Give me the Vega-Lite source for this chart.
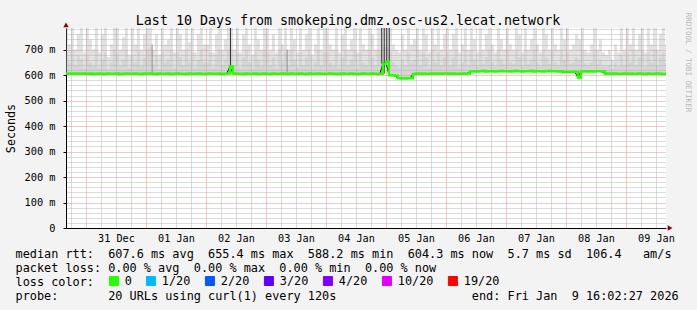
{
  "$schema": "https://vega.github.io/schema/vega-lite/v6.json",
  "width": 600,
  "height": 200,
  "autosize": "none",
  "padding": {"left": 66, "top": 28, "right": 31, "bottom": 82},
  "background": "#f3f3f3",
  "config": {
    "view": {"fill": "white", "stroke": null},
    "font": "DejaVu Sans Mono",
    "axis": {"labelFont": "DejaVu Sans Mono", "titleFont": "DejaVu Sans Mono", "labelColor": "black", "titleColor": "black", "titleFontWeight": "normal"}
  },
  "datasets": {
    "s": [
      {"t":"2025-12-30T16:03Z","m":606,"h":785,"d":690},
      {"t":"2025-12-30T16:48Z","m":605,"h":720,"d":650},
      {"t":"2025-12-30T18:00Z","m":606,"h":785,"d":700},
      {"t":"2025-12-30T19:12Z","m":605,"h":700,"d":640},
      {"t":"2025-12-30T20:24Z","m":606,"h":760,"d":680},
      {"t":"2025-12-30T21:36Z","m":605,"h":785,"d":660},
      {"t":"2025-12-30T22:48Z","m":606,"h":690,"d":630},
      {"t":"2025-12-31T00:00Z","m":605,"h":785,"d":680},
      {"t":"2025-12-31T01:12Z","m":606,"h":740,"d":650},
      {"t":"2025-12-31T02:24Z","m":604,"h":700,"d":640},
      {"t":"2025-12-31T03:36Z","m":605,"h":785,"d":700},
      {"t":"2025-12-31T04:48Z","m":606,"h":690,"d":630},
      {"t":"2025-12-31T06:00Z","m":605,"h":760,"d":660},
      {"t":"2025-12-31T07:12Z","m":604,"h":785,"d":690},
      {"t":"2025-12-31T08:24Z","m":606,"h":670,"d":625},
      {"t":"2025-12-31T09:36Z","m":605,"h":720,"d":650},
      {"t":"2025-12-31T10:48Z","m":605,"h":785,"d":700},
      {"t":"2025-12-31T12:00Z","m":606,"h":785,"d":690},
      {"t":"2025-12-31T13:12Z","m":604,"h":700,"d":640},
      {"t":"2025-12-31T14:24Z","m":605,"h":750,"d":660},
      {"t":"2025-12-31T15:36Z","m":606,"h":785,"d":700},
      {"t":"2025-12-31T16:48Z","m":605,"h":680,"d":630},
      {"t":"2025-12-31T18:00Z","m":605,"h":785,"d":680},
      {"t":"2025-12-31T19:12Z","m":606,"h":720,"d":650},
      {"t":"2025-12-31T20:24Z","m":605,"h":785,"d":700},
      {"t":"2025-12-31T21:36Z","m":604,"h":700,"d":640},
      {"t":"2025-12-31T22:48Z","m":606,"h":760,"d":670},
      {"t":"2026-01-01T00:00Z","m":605,"h":785,"d":700},
      {"t":"2026-01-01T01:12Z","m":606,"h":785,"d":710},
      {"t":"2026-01-01T02:24Z","m":605,"h":700,"d":640},
      {"t":"2026-01-01T03:36Z","m":604,"h":760,"d":680},
      {"t":"2026-01-01T04:48Z","m":606,"h":680,"d":625},
      {"t":"2026-01-01T06:00Z","m":605,"h":785,"d":690},
      {"t":"2026-01-01T07:12Z","m":605,"h":720,"d":650},
      {"t":"2026-01-01T08:24Z","m":606,"h":740,"d":660},
      {"t":"2026-01-01T09:36Z","m":604,"h":785,"d":700},
      {"t":"2026-01-01T10:48Z","m":605,"h":690,"d":630},
      {"t":"2026-01-01T12:00Z","m":606,"h":785,"d":690},
      {"t":"2026-01-01T13:12Z","m":605,"h":760,"d":670},
      {"t":"2026-01-01T14:24Z","m":605,"h":700,"d":640},
      {"t":"2026-01-01T15:36Z","m":604,"h":785,"d":700},
      {"t":"2026-01-01T16:48Z","m":606,"h":730,"d":650},
      {"t":"2026-01-01T18:00Z","m":605,"h":785,"d":690},
      {"t":"2026-01-01T19:12Z","m":605,"h":690,"d":630},
      {"t":"2026-01-01T20:24Z","m":606,"h":760,"d":660},
      {"t":"2026-01-01T21:36Z","m":605,"h":785,"d":700},
      {"t":"2026-01-01T22:48Z","m":604,"h":720,"d":650},
      {"t":"2026-01-02T00:00Z","m":605,"h":720,"d":650},
      {"t":"2026-01-02T01:12Z","m":606,"h":785,"d":690},
      {"t":"2026-01-02T02:24Z","m":605,"h":690,"d":630},
      {"t":"2026-01-02T03:36Z","m":605,"h":760,"d":680},
      {"t":"2026-01-02T04:48Z","m":606,"h":785,"d":700},
      {"t":"2026-01-02T06:00Z","m":604,"h":700,"d":640},
      {"t":"2026-01-02T07:12Z","m":605,"h":740,"d":660},
      {"t":"2026-01-02T08:24Z","m":606,"h":785,"d":700},
      {"t":"2026-01-02T09:36Z","m":634,"h":785,"d":700},
      {"t":"2026-01-02T10:48Z","m":606,"h":700,"d":640},
      {"t":"2026-01-02T12:00Z","m":605,"h":785,"d":690},
      {"t":"2026-01-02T13:12Z","m":605,"h":690,"d":630},
      {"t":"2026-01-02T14:24Z","m":604,"h":760,"d":670},
      {"t":"2026-01-02T15:36Z","m":606,"h":785,"d":700},
      {"t":"2026-01-02T16:48Z","m":605,"h":720,"d":650},
      {"t":"2026-01-02T18:00Z","m":605,"h":680,"d":625},
      {"t":"2026-01-02T19:12Z","m":606,"h":785,"d":690},
      {"t":"2026-01-02T20:24Z","m":604,"h":740,"d":660},
      {"t":"2026-01-02T21:36Z","m":605,"h":700,"d":640},
      {"t":"2026-01-02T22:48Z","m":606,"h":785,"d":700},
      {"t":"2026-01-03T00:00Z","m":605,"h":785,"d":690},
      {"t":"2026-01-03T01:12Z","m":604,"h":700,"d":640},
      {"t":"2026-01-03T02:24Z","m":606,"h":760,"d":670},
      {"t":"2026-01-03T03:36Z","m":605,"h":690,"d":630},
      {"t":"2026-01-03T04:48Z","m":605,"h":785,"d":700},
      {"t":"2026-01-03T06:00Z","m":606,"h":720,"d":650},
      {"t":"2026-01-03T07:12Z","m":605,"h":785,"d":690},
      {"t":"2026-01-03T08:24Z","m":604,"h":700,"d":640},
      {"t":"2026-01-03T09:36Z","m":606,"h":785,"d":700},
      {"t":"2026-01-03T10:48Z","m":605,"h":740,"d":660},
      {"t":"2026-01-03T12:00Z","m":605,"h":690,"d":630},
      {"t":"2026-01-03T13:12Z","m":606,"h":785,"d":690},
      {"t":"2026-01-03T14:24Z","m":605,"h":700,"d":640},
      {"t":"2026-01-03T15:36Z","m":604,"h":760,"d":670},
      {"t":"2026-01-03T16:48Z","m":606,"h":785,"d":700},
      {"t":"2026-01-03T18:00Z","m":605,"h":680,"d":630},
      {"t":"2026-01-03T19:12Z","m":605,"h":720,"d":650},
      {"t":"2026-01-03T20:24Z","m":606,"h":785,"d":700},
      {"t":"2026-01-03T21:36Z","m":605,"h":700,"d":640},
      {"t":"2026-01-03T22:48Z","m":605,"h":785,"d":690},
      {"t":"2026-01-04T00:00Z","m":605,"h":785,"d":690},
      {"t":"2026-01-04T01:12Z","m":606,"h":720,"d":650},
      {"t":"2026-01-04T02:24Z","m":605,"h":700,"d":640},
      {"t":"2026-01-04T03:36Z","m":605,"h":785,"d":700},
      {"t":"2026-01-04T04:48Z","m":604,"h":690,"d":630},
      {"t":"2026-01-04T06:00Z","m":606,"h":760,"d":670},
      {"t":"2026-01-04T07:12Z","m":605,"h":785,"d":700},
      {"t":"2026-01-04T08:24Z","m":605,"h":700,"d":640},
      {"t":"2026-01-04T09:36Z","m":606,"h":740,"d":660},
      {"t":"2026-01-04T10:48Z","m":605,"h":785,"d":700},
      {"t":"2026-01-04T12:00Z","m":604,"h":690,"d":630},
      {"t":"2026-01-04T13:12Z","m":605,"h":785,"d":690},
      {"t":"2026-01-04T14:24Z","m":606,"h":720,"d":650},
      {"t":"2026-01-04T15:36Z","m":605,"h":700,"d":640},
      {"t":"2026-01-04T16:48Z","m":605,"h":785,"d":700},
      {"t":"2026-01-04T18:00Z","m":606,"h":760,"d":670},
      {"t":"2026-01-04T19:12Z","m":605,"h":700,"d":640},
      {"t":"2026-01-04T20:24Z","m":604,"h":785,"d":700},
      {"t":"2026-01-04T21:36Z","m":605,"h":785,"d":700},
      {"t":"2026-01-04T22:48Z","m":645,"h":785,"d":710},
      {"t":"2026-01-05T00:00Z","m":653,"h":785,"d":710},
      {"t":"2026-01-05T01:12Z","m":600,"h":785,"d":690},
      {"t":"2026-01-05T02:24Z","m":600,"h":720,"d":650},
      {"t":"2026-01-05T03:36Z","m":598,"h":700,"d":640},
      {"t":"2026-01-05T04:48Z","m":588,"h":690,"d":630},
      {"t":"2026-01-05T06:00Z","m":587,"h":760,"d":660},
      {"t":"2026-01-05T07:12Z","m":587,"h":700,"d":640},
      {"t":"2026-01-05T08:24Z","m":588,"h":785,"d":690},
      {"t":"2026-01-05T09:36Z","m":588,"h":720,"d":650},
      {"t":"2026-01-05T10:48Z","m":604,"h":740,"d":660},
      {"t":"2026-01-05T12:00Z","m":606,"h":785,"d":700},
      {"t":"2026-01-05T13:12Z","m":605,"h":700,"d":640},
      {"t":"2026-01-05T14:24Z","m":606,"h":785,"d":690},
      {"t":"2026-01-05T15:36Z","m":605,"h":760,"d":670},
      {"t":"2026-01-05T16:48Z","m":605,"h":690,"d":630},
      {"t":"2026-01-05T18:00Z","m":606,"h":785,"d":700},
      {"t":"2026-01-05T19:12Z","m":605,"h":720,"d":650},
      {"t":"2026-01-05T20:24Z","m":606,"h":785,"d":690},
      {"t":"2026-01-05T21:36Z","m":605,"h":700,"d":640},
      {"t":"2026-01-05T22:48Z","m":606,"h":760,"d":670},
      {"t":"2026-01-06T00:00Z","m":606,"h":785,"d":690},
      {"t":"2026-01-06T01:12Z","m":605,"h":700,"d":640},
      {"t":"2026-01-06T02:24Z","m":606,"h":760,"d":670},
      {"t":"2026-01-06T03:36Z","m":605,"h":785,"d":700},
      {"t":"2026-01-06T04:48Z","m":605,"h":690,"d":630},
      {"t":"2026-01-06T06:00Z","m":606,"h":720,"d":650},
      {"t":"2026-01-06T07:12Z","m":605,"h":785,"d":700},
      {"t":"2026-01-06T08:24Z","m":606,"h":700,"d":640},
      {"t":"2026-01-06T09:36Z","m":614,"h":785,"d":700},
      {"t":"2026-01-06T10:48Z","m":615,"h":740,"d":660},
      {"t":"2026-01-06T12:00Z","m":614,"h":690,"d":635},
      {"t":"2026-01-06T13:12Z","m":615,"h":785,"d":695},
      {"t":"2026-01-06T14:24Z","m":616,"h":700,"d":645},
      {"t":"2026-01-06T15:36Z","m":614,"h":760,"d":670},
      {"t":"2026-01-06T16:48Z","m":615,"h":785,"d":700},
      {"t":"2026-01-06T18:00Z","m":615,"h":720,"d":650},
      {"t":"2026-01-06T19:12Z","m":614,"h":690,"d":635},
      {"t":"2026-01-06T20:24Z","m":615,"h":785,"d":700},
      {"t":"2026-01-06T21:36Z","m":616,"h":740,"d":660},
      {"t":"2026-01-06T22:48Z","m":615,"h":700,"d":645},
      {"t":"2026-01-07T00:00Z","m":615,"h":785,"d":700},
      {"t":"2026-01-07T01:12Z","m":614,"h":720,"d":650},
      {"t":"2026-01-07T02:24Z","m":615,"h":700,"d":645},
      {"t":"2026-01-07T03:36Z","m":616,"h":785,"d":700},
      {"t":"2026-01-07T04:48Z","m":615,"h":760,"d":670},
      {"t":"2026-01-07T06:00Z","m":614,"h":690,"d":635},
      {"t":"2026-01-07T07:12Z","m":615,"h":785,"d":700},
      {"t":"2026-01-07T08:24Z","m":615,"h":700,"d":645},
      {"t":"2026-01-07T09:36Z","m":616,"h":740,"d":660},
      {"t":"2026-01-07T10:48Z","m":614,"h":785,"d":700},
      {"t":"2026-01-07T12:00Z","m":615,"h":720,"d":650},
      {"t":"2026-01-07T13:12Z","m":615,"h":690,"d":635},
      {"t":"2026-01-07T14:24Z","m":614,"h":785,"d":700},
      {"t":"2026-01-07T15:36Z","m":615,"h":760,"d":670},
      {"t":"2026-01-07T16:48Z","m":616,"h":700,"d":645},
      {"t":"2026-01-07T18:00Z","m":615,"h":785,"d":700},
      {"t":"2026-01-07T19:12Z","m":615,"h":720,"d":650},
      {"t":"2026-01-07T20:24Z","m":614,"h":700,"d":640},
      {"t":"2026-01-07T21:36Z","m":615,"h":785,"d":700},
      {"t":"2026-01-07T22:48Z","m":612,"h":740,"d":660},
      {"t":"2026-01-08T00:00Z","m":612,"h":785,"d":690},
      {"t":"2026-01-08T01:12Z","m":612,"h":700,"d":645},
      {"t":"2026-01-08T02:24Z","m":613,"h":720,"d":650},
      {"t":"2026-01-08T03:36Z","m":612,"h":760,"d":670},
      {"t":"2026-01-08T04:48Z","m":591,"h":740,"d":660},
      {"t":"2026-01-08T06:00Z","m":614,"h":785,"d":700},
      {"t":"2026-01-08T07:12Z","m":615,"h":700,"d":645},
      {"t":"2026-01-08T08:24Z","m":614,"h":690,"d":640},
      {"t":"2026-01-08T09:36Z","m":615,"h":720,"d":650},
      {"t":"2026-01-08T10:48Z","m":614,"h":785,"d":700},
      {"t":"2026-01-08T12:00Z","m":615,"h":700,"d":645},
      {"t":"2026-01-08T13:12Z","m":615,"h":740,"d":660},
      {"t":"2026-01-08T14:24Z","m":614,"h":690,"d":640},
      {"t":"2026-01-08T15:36Z","m":605,"h":680,"d":635},
      {"t":"2026-01-08T16:48Z","m":606,"h":700,"d":640},
      {"t":"2026-01-08T18:00Z","m":605,"h":660,"d":625},
      {"t":"2026-01-08T19:12Z","m":606,"h":720,"d":650},
      {"t":"2026-01-08T20:24Z","m":605,"h":690,"d":635},
      {"t":"2026-01-08T21:36Z","m":605,"h":785,"d":680},
      {"t":"2026-01-08T22:48Z","m":606,"h":700,"d":640},
      {"t":"2026-01-09T00:00Z","m":605,"h":785,"d":690},
      {"t":"2026-01-09T01:12Z","m":606,"h":720,"d":650},
      {"t":"2026-01-09T02:24Z","m":605,"h":785,"d":700},
      {"t":"2026-01-09T03:36Z","m":605,"h":700,"d":640},
      {"t":"2026-01-09T04:48Z","m":606,"h":760,"d":670},
      {"t":"2026-01-09T06:00Z","m":605,"h":785,"d":700},
      {"t":"2026-01-09T07:12Z","m":604,"h":690,"d":635},
      {"t":"2026-01-09T08:24Z","m":606,"h":785,"d":690},
      {"t":"2026-01-09T09:36Z","m":605,"h":720,"d":650},
      {"t":"2026-01-09T10:48Z","m":605,"h":785,"d":700},
      {"t":"2026-01-09T12:00Z","m":606,"h":700,"d":640},
      {"t":"2026-01-09T13:12Z","m":605,"h":760,"d":670},
      {"t":"2026-01-09T14:24Z","m":604,"h":785,"d":690},
      {"t":"2026-01-09T15:36Z","m":604,"h":720,"d":650},
      {"t":"2026-01-09T16:02:27Z","m":604,"h":720,"d":650}
    ]
  },
  "layer": [
    {
      "data": {"name": "s"},
      "mark": {"type": "area", "interpolate": "step-after", "color": "#a0a0a0", "opacity": 0.3, "clip": true},
      "encoding": {
        "x": {
          "field": "t", "type": "temporal",
          "scale": {"type": "utc", "domain": [
            {"year": 2025, "month": 12, "date": 30, "hours": 16, "minutes": 2, "seconds": 27, "utc": true},
            {"year": 2026, "month": 1, "date": 9, "hours": 16, "minutes": 2, "seconds": 27, "utc": true}
          ]},
          "axis": {
            "orient": "bottom",
            "values": [
              {"year": 2025, "month": 12, "date": 31, "hours": 0, "utc": true},
              {"year": 2026, "month": 1, "date": 1, "hours": 0, "utc": true},
              {"year": 2026, "month": 1, "date": 2, "hours": 0, "utc": true},
              {"year": 2026, "month": 1, "date": 3, "hours": 0, "utc": true},
              {"year": 2026, "month": 1, "date": 4, "hours": 0, "utc": true},
              {"year": 2026, "month": 1, "date": 5, "hours": 0, "utc": true},
              {"year": 2026, "month": 1, "date": 6, "hours": 0, "utc": true},
              {"year": 2026, "month": 1, "date": 7, "hours": 0, "utc": true},
              {"year": 2026, "month": 1, "date": 8, "hours": 0, "utc": true},
              {"year": 2026, "month": 1, "date": 9, "hours": 0, "utc": true}
            ],
            "grid": true,
            "gridColor": "#ee9090",
            "gridDash": [1, 1],
            "gridOpacity": 1,
            "ticks": false,
            "domainColor": "black",
            "labelExpr": "utcFormat(datum.value, '%d %b')",
            "labelOffset": 30,
            "labelFontSize": 10.2,
            "labelPadding": 5,
            "labelOverlap": false,
            "labelFlush": false,
            "labelBound": false,
            "title": [
              "median rtt:\u00a0\u00a0607.6 ms avg\u00a0\u00a0655.4 ms max\u00a0\u00a0588.2 ms min\u00a0\u00a0604.3 ms now\u00a0\u00a05.7 ms sd\u00a0\u00a0106.4\u00a0\u00a0\u00a0am/s",
              "packet loss: 0.00 % avg\u00a0\u00a00.00 % max\u00a0\u00a00.00 % min\u00a0\u00a00.00 % now",
              "loss color:",
              "probe:\u00a0\u00a0\u00a0\u00a0\u00a0\u00a0\u00a020 URLs using curl(1) every 120s\u00a0\u00a0\u00a0\u00a0\u00a0\u00a0\u00a0\u00a0\u00a0\u00a0\u00a0\u00a0\u00a0\u00a0\u00a0\u00a0\u00a0\u00a0\u00a0end: Fri Jan\u00a0\u00a09 16:02:27 2026"
            ],
            "titleFontSize": 11.85,
            "titleAnchor": "start",
            "titleAlign": "left",
            "titleBaseline": "alphabetic",
            "titleX": -51,
            "titleY": 29,
            "titleLineHeight": 14.2
          }
        },
        "y": {
          "field": "h", "type": "quantitative",
          "scale": {"domain": [0, 785], "nice": false, "zero": true},
          "axis": {
            "orient": "left",
            "values": [0, 100, 200, 300, 400, 500, 600, 700],
            "grid": true,
            "gridColor": "#ee9090",
            "gridDash": [1, 1],
            "gridOpacity": 1,
            "tickColor": "black",
            "tickSize": 3,
            "domainColor": "black",
            "labelExpr": "datum.value == 0 ? '0\u00a0\u00a0' : datum.value + ' m'",
            "labelFontSize": 10.3,
            "labelPadding": 8,
            "labelOverlap": false,
            "labelBound": false,
            "title": "Seconds",
            "titleFontSize": 11.7,
            "titleAngle": 270,
            "titleAlign": "center",
            "titleBaseline": "middle",
            "titleX": -55.5,
            "titleY": 100
          }
        },
        "y2": {"field": "m"}
      }
    },
    {
      "data": {"name": "s"},
      "mark": {"type": "area", "interpolate": "step-after", "color": "#b0b0b0", "opacity": 0.25, "clip": true},
      "encoding": {
        "x": {
          "field": "t", "type": "temporal",
          "axis": {
            "orient": "bottom",
            "values": [
              {"year": 2025, "month": 12, "date": 30, "hours": 18, "utc": true},
              {"year": 2025, "month": 12, "date": 31, "hours": 6, "utc": true},
              {"year": 2025, "month": 12, "date": 31, "hours": 12, "utc": true},
              {"year": 2025, "month": 12, "date": 31, "hours": 18, "utc": true},
              {"year": 2026, "month": 1, "date": 1, "hours": 6, "utc": true},
              {"year": 2026, "month": 1, "date": 1, "hours": 12, "utc": true},
              {"year": 2026, "month": 1, "date": 1, "hours": 18, "utc": true},
              {"year": 2026, "month": 1, "date": 2, "hours": 6, "utc": true},
              {"year": 2026, "month": 1, "date": 2, "hours": 12, "utc": true},
              {"year": 2026, "month": 1, "date": 2, "hours": 18, "utc": true},
              {"year": 2026, "month": 1, "date": 3, "hours": 6, "utc": true},
              {"year": 2026, "month": 1, "date": 3, "hours": 12, "utc": true},
              {"year": 2026, "month": 1, "date": 3, "hours": 18, "utc": true},
              {"year": 2026, "month": 1, "date": 4, "hours": 6, "utc": true},
              {"year": 2026, "month": 1, "date": 4, "hours": 12, "utc": true},
              {"year": 2026, "month": 1, "date": 4, "hours": 18, "utc": true},
              {"year": 2026, "month": 1, "date": 5, "hours": 6, "utc": true},
              {"year": 2026, "month": 1, "date": 5, "hours": 12, "utc": true},
              {"year": 2026, "month": 1, "date": 5, "hours": 18, "utc": true},
              {"year": 2026, "month": 1, "date": 6, "hours": 6, "utc": true},
              {"year": 2026, "month": 1, "date": 6, "hours": 12, "utc": true},
              {"year": 2026, "month": 1, "date": 6, "hours": 18, "utc": true},
              {"year": 2026, "month": 1, "date": 7, "hours": 6, "utc": true},
              {"year": 2026, "month": 1, "date": 7, "hours": 12, "utc": true},
              {"year": 2026, "month": 1, "date": 7, "hours": 18, "utc": true},
              {"year": 2026, "month": 1, "date": 8, "hours": 6, "utc": true},
              {"year": 2026, "month": 1, "date": 8, "hours": 12, "utc": true},
              {"year": 2026, "month": 1, "date": 8, "hours": 18, "utc": true},
              {"year": 2026, "month": 1, "date": 9, "hours": 6, "utc": true},
              {"year": 2026, "month": 1, "date": 9, "hours": 12, "utc": true}
            ],
            "grid": true,
            "gridColor": "#b8b8b8",
            "gridDash": [1, 1],
            "gridOpacity": 1,
            "labels": false,
            "ticks": false,
            "domain": false,
            "title": null
          }
        },
        "y": {
          "field": "d", "type": "quantitative",
          "axis": {
            "orient": "left",
            "values": [20,40,60,80,120,140,160,180,220,240,260,280,320,340,360,380,420,440,460,480,520,540,560,580,620,640,660,680,720,740,760,780],
            "grid": true,
            "gridColor": "#b8b8b8",
            "gridDash": [1, 1],
            "gridOpacity": 1,
            "labels": false,
            "ticks": false,
            "domain": false,
            "title": null
          }
        },
        "y2": {"field": "m"}
      }
    },
    {
      "data": {"values": [
        {"t": "2026-01-01T02:30Z", "lo": 606, "hi": 720},
        {"t": "2026-01-03T08:30Z", "lo": 606, "hi": 700}
      ]},
      "mark": {"type": "rule", "color": "#909090", "strokeWidth": 1},
      "encoding": {
        "x": {"field": "t", "type": "temporal", "axis": null},
        "y": {"field": "lo", "type": "quantitative", "axis": null},
        "y2": {"field": "hi"}
      }
    },
    {
      "data": {"values": [
        {"t": "2026-01-02T09:50Z", "lo": 606, "hi": 785},
        {"t": "2026-01-04T22:20Z", "lo": 645, "hi": 785},
        {"t": "2026-01-04T23:20Z", "lo": 606, "hi": 785},
        {"t": "2026-01-05T00:20Z", "lo": 653, "hi": 785},
        {"t": "2026-01-05T01:20Z", "lo": 640, "hi": 785}
      ]},
      "mark": {"type": "rule", "color": "#303030", "strokeWidth": 1},
      "encoding": {
        "x": {"field": "t", "type": "temporal", "axis": null},
        "y": {"field": "lo", "type": "quantitative", "axis": null},
        "y2": {"field": "hi"}
      }
    },
    {
      "data": {"name": "s"},
      "mark": {"type": "line", "color": "black", "strokeWidth": 1},
      "encoding": {
        "x": {"field": "t", "type": "temporal", "axis": null},
        "y": {
          "field": "m", "type": "quantitative",
          "axis": {
            "orient": "right",
            "domain": false, "ticks": false, "labels": false, "grid": false,
            "title": "RRDTOOL / TOBI OETIKER",
            "titleFontSize": 7.5,
            "titleColor": "#b8b8b8",
            "titleAngle": 90,
            "titleAlign": "center",
            "titleBaseline": "middle",
            "titleX": 21,
            "titleY": 34
          }
        }
      }
    },
    {
      "data": {"name": "s"},
      "mark": {"type": "line", "interpolate": "step-after", "strokeWidth": 2.5},
      "encoding": {
        "x": {
          "field": "t", "type": "temporal",
          "axis": {
            "orient": "top",
            "domain": false, "ticks": false, "labels": false, "grid": false,
            "title": "Last 10 Days from smokeping.dmz.osc-us2.lecat.network",
            "titleFontSize": 13.3,
            "titleAlign": "center",
            "titleBaseline": "alphabetic",
            "titleX": 281.5,
            "titleY": -4
          }
        },
        "y": {"field": "m", "type": "quantitative", "axis": null},
        "color": {
          "datum": "0", "type": "nominal",
          "scale": {"domain": ["0", "1/20", "2/20", "3/20", "4/20", "10/20", "19/20"], "range": ["#26ff00", "#00b8ff", "#0059ff", "#5e00ff", "#7e00ff", "#dd00ff", "#ff0000"]},
          "legend": {
            "orient": "none",
            "legendX": 42,
            "legendY": 247,
            "direction": "horizontal",
            "title": null,
            "padding": 0,
            "symbolType": "square",
            "symbolSize": 81,
            "symbolStrokeWidth": 1,
            "symbolStrokeColor": "black",
            "labelFont": "DejaVu Sans Mono",
            "labelFontSize": 11.85,
            "labelColor": "black",
            "labelOffset": 5,
            "columnPadding": 12,
            "encode": {"symbols": {"update": {"fill": {"scale": "color", "field": "value"}, "stroke": {"value": "black"}, "strokeWidth": {"value": 1}, "opacity": {"value": 1}}}}
          }
        }
      }
    },
    {
      "data": {"values": [{}]},
      "mark": {"type": "point", "shape": "triangle-up", "filled": true, "color": "#900000", "size": 30, "opacity": 1},
      "encoding": {
        "x": {"datum": {"year": 2025, "month": 12, "date": 30, "hours": 16, "minutes": 2, "seconds": 27, "utc": true}, "type": "temporal", "axis": null},
        "y": {"datum": 797, "type": "quantitative", "axis": null}
      }
    },
    {
      "data": {"values": [{}]},
      "mark": {"type": "point", "shape": "triangle-right", "filled": true, "color": "#900000", "size": 30, "opacity": 1},
      "encoding": {
        "x": {"datum": {"year": 2026, "month": 1, "date": 9, "hours": 17, "minutes": 40, "utc": true}, "type": "temporal", "axis": null},
        "y": {"datum": 0, "type": "quantitative", "axis": null}
      }
    }
  ],
  "resolve": {"axis": {"x": "independent", "y": "independent"}}
}
